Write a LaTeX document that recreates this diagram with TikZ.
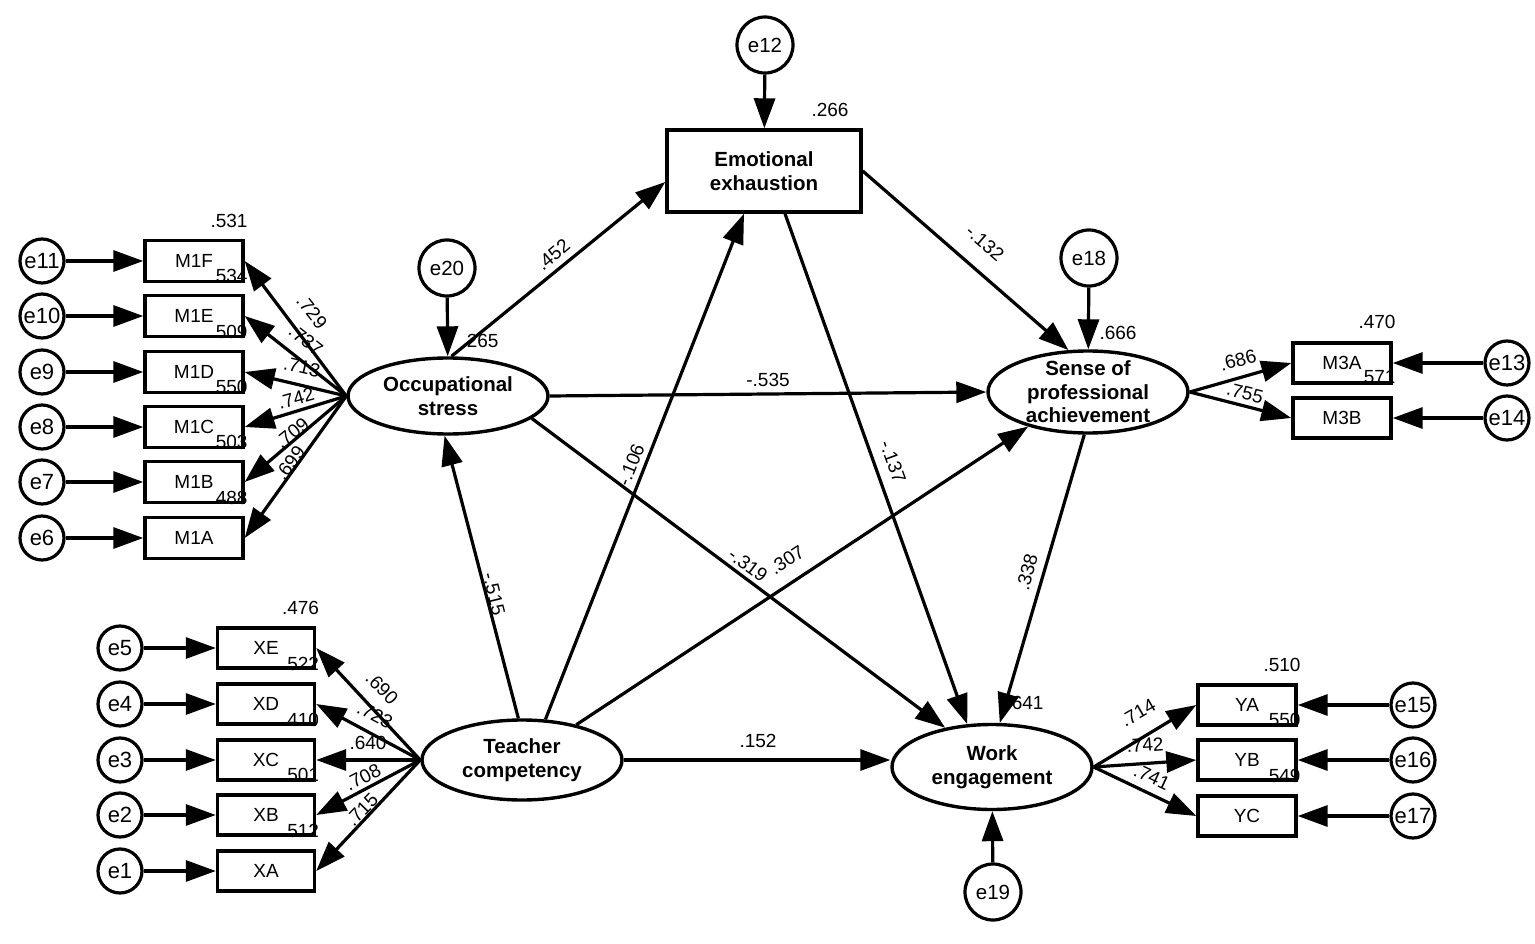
\documentclass[tikz,border=0pt]{standalone}
\usepackage{fontspec}
\setmainfont{Liberation Sans}
\usetikzlibrary{arrows.meta,shapes.geometric,calc}
\begin{document}
\begin{tikzpicture}[x=1pt,y=-1pt,
  every node/.style={font=\fontsize{19}{21}\selectfont, inner sep=0pt},
  obs/.style={draw, line width=3.4pt, minimum width=98pt, minimum height=41pt},
  err/.style={draw, circle, line width=3.2pt, minimum size=44pt, font=\fontsize{22}{24}\selectfont},
  bigerr/.style={draw, circle, line width=3.2pt, minimum size=56pt, font=\fontsize{20.5}{22}\selectfont},
  lat/.style={draw, ellipse, line width=3.4pt, minimum width=200pt, minimum height=80pt, inner sep=-8pt, align=center, font=\fontsize{20.5}{23.5}\selectfont\bfseries},
  arr/.style={line width=3.2pt, -{Triangle[length=30pt,width=21pt]}},
  lbl/.style={font=\fontsize{19}{21}\selectfont}
]
\useasboundingbox (0,0) rectangle (1535,944);
\fill[white] (0,0) rectangle (1535,944);

% latent variables
\node[lat, minimum height=76pt] (OS) at (448,396) {Occupational\\stress};
\node[lat] (TC) at (522,760) {Teacher\\competency};
\node[lat, minimum height=82pt, inner sep=-14pt] (SPA) at (1088,392) {Sense of\\professional\\achievement};
\node[lat, minimum height=85pt] (WE) at (992,767) {Work\\engagement};
\node[obs, minimum width=194pt, minimum height=82pt, align=center, font=\fontsize{20.5}{23.5}\selectfont\bfseries] (EE) at (764,171) {Emotional\\exhaustion};

% structural error terms
\node[bigerr] (e12) at (765,45) {e12};
\node[bigerr] (e20) at (447,268) {e20};
\node[bigerr] (e18) at (1089,258) {e18};
\node[bigerr] (e19) at (993,892) {e19};
\draw[arr] (e12) -- (EE);
\draw[arr] (e20) -- (OS);
\draw[arr] (e18) -- (SPA);
\draw[arr] (e19) -- (WE);

% M1 indicators
\foreach \n/\y/\v/\e in {M1F/261/.531/e11, M1E/316/.534/e10, M1D/372/.509/e9, M1C/427/.550/e8, M1B/482/.503/e7, M1A/538/.488/e6}{
  \node[obs] (\n) at (194,\y) {\n};
  \node[err] (\e) at (42,\y) {\e};
  \node[lbl, anchor=east] (v\n) at ($(\n.north east)+(3,-18)$) {\v};
  \draw[arr] (\e) -- (\n);
  \draw[arr] (OS.west) -- (\n.east);
}
% X indicators
\foreach \n/\y/\v/\e in {XE/648/.476/e5, XD/704/.522/e4, XC/760/.410/e3, XB/815/.501/e2, XA/871/.512/e1}{
  \node[obs, minimum width=97pt, minimum height=40pt] (\n) at (266,\y) {\n};
  \node[err] (\e) at (120,\y) {\e};
  \node[lbl, anchor=east] (v\n) at ($(\n.north east)+(3,-18)$) {\v};
  \draw[arr] (\e) -- (\n);
  \draw[arr] (TC.west) -- (\n.east);
}
% M3 indicators
\foreach \n/\y/\v/\e in {M3A/363/.470/e13, M3B/418/.571/e14}{
  \node[obs, minimum height=40pt] (\n) at (1342,\y) {\n};
  \node[err] (\e) at (1507,\y) {\e};
  \node[lbl, anchor=east] (v\n) at ($(\n.north east)+(3,-19)$) {\v};
  \draw[arr] (\e) -- (\n);
  \draw[arr] (SPA.east) -- (\n.west);
}
% Y indicators
\foreach \n/\y/\v/\e in {YA/705/.510/e15, YB/760/.550/e16, YC/816/.549/e17}{
  \node[obs, minimum height=40pt] (\n) at (1247,\y) {\n};
  \node[err] (\e) at (1413,\y) {\e};
  \node[lbl, anchor=east] (v\n) at ($(\n.north east)+(3,-18)$) {\v};
  \draw[arr] (\e) -- (\n);
  \draw[arr] (WE.east) -- (\n.west);
}

% structural paths
\draw[arr] (OS.85) -- ($(EE.west)+(0,11)$);
\draw[arr] (EE.east) -- (SPA.115);
\draw[arr] (OS.east) -- (SPA.west);
\draw[arr] (OS.-15) -- (WE.140);
\draw[arr] (TC.95) -- (OS.-95);
\draw[arr] (TC.60) -- ($(EE.south)+(-20,0)$);
\draw[arr] (TC.33) -- (SPA.-150);
\draw[arr] (TC.east) -- (TC.east -| WE.west);
\draw[arr] ($(EE.south)+(21,0)$) -- (WE.120);
\draw[arr] (SPA.-95) -- (WE.80);

% path coefficients
\node[lbl, rotate=40] (c1) at (553,255) {.452};
\node[lbl, rotate=-41] (c2) at (985,243) {-.132};
\node[lbl] (c3) at (768,380) {-.535};
\node[lbl, rotate=-37] (c4) at (748,565) {-.319};
\node[lbl, rotate=33] (c5) at (787,560) {.307};
\node[lbl, rotate=-76] (c6) at (494,594) {-.515};
\node[lbl, rotate=68] (c7) at (631,465) {-.106};
\node[lbl, rotate=-70] (c8) at (893,462) {-.137};
\node[lbl, rotate=75] (c9) at (1027,572) {.338};
\node[lbl] (c10) at (758,741) {.152};

% squared multiple correlations
\node[lbl] (r1) at (1025,703) {.641};
\node[lbl] (r2) at (480,341) {.265};
\node[lbl] (r3) at (1118,333) {.666};
\node[lbl] (r4) at (830,110) {.266};

% loadings
\node[lbl, rotate=-52] (l1) at (312,312) {.729};
\node[lbl, rotate=-38] (l2) at (306,340) {.737};
\node[lbl, rotate=-13] (l3) at (302,367) {.713};
\node[lbl, rotate=16] (l4) at (296,398) {.742};
\node[lbl, rotate=39] (l5) at (292,433) {.709};
\node[lbl, rotate=53] (l6) at (290,463) {.699};

\node[lbl, rotate=-46] (l7) at (382,688) {.690};
\node[lbl, rotate=-28] (l8) at (375,715) {.723};
\node[lbl] (l9) at (368,743) {.640};
\node[lbl, rotate=27] (l10) at (363,777) {.708};
\node[lbl, rotate=46] (l11) at (362,810) {.715};

\node[lbl, rotate=15] (l12) at (1238,360) {.686};
\node[lbl, rotate=-14] (l13) at (1245,393) {.755};
\node[lbl, rotate=30] (l14) at (1138,713) {.714};
\node[lbl, rotate=4] (l15) at (1145,745) {.742};
\node[lbl, rotate=-25] (l16) at (1152,777) {.741};
\end{tikzpicture}
\end{document}
